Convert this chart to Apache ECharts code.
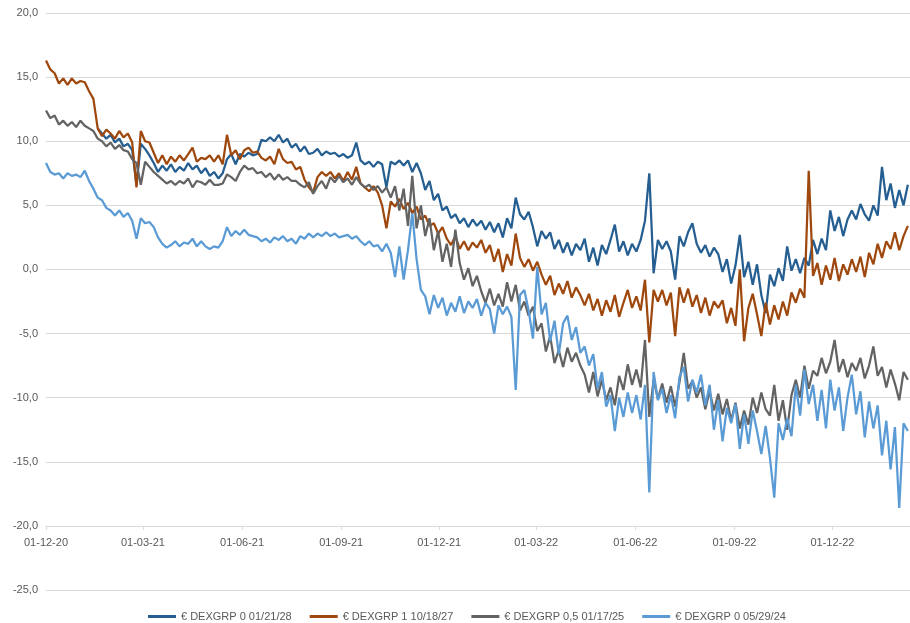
<!DOCTYPE html>
<html>
<head>
<meta charset="utf-8">
<script src="https://cdn.jsdelivr.net/npm/echarts@6/dist/echarts.min.js"></script>
<style>
html,body{margin:0;padding:0;background:#fff;}
#chart{width:910px;height:623px;}
</style>
</head>
<body>
<div id="chart"></div>
<script>
const startDate = [2020, 11, 1];   // 01-12-20
const dayCount = 803;              // calendar days on the axis
const sampleStep = 4;              // days between samples

const seriesNames = [
  '€ DEXGRP 0 01/21/28',
  '€ DEXGRP 1 10/18/27',
  '€ DEXGRP 0,5 01/17/25',
  '€ DEXGRP 0 05/29/24'
];

const yTicks = [-25, -20, -15, -10, -5, 0, 5, 10, 15, 20];
const xAxisCrossesAt = -20;

// € DEXGRP 0 01/21/28 (starts after issue, first 12 samples empty)
const dexgrp28 = [
  null,null,null,null,null,null,null,null,null,null,
  null,null,11.0,10.6,10.2,10.5,9.9,10.2,9.6,9.8,
  9.3,6.6,9.8,9.4,8.9,8.3,7.6,8.1,7.7,8.2,
  7.6,8.0,7.7,8.3,7.8,8.1,7.5,7.9,7.3,7.6,
  7.1,7.5,8.6,9.0,8.2,9.0,8.8,9.1,8.9,9.0,
  10.1,10.0,10.3,10.0,10.5,9.9,10.2,9.5,9.8,9.2,
  9.6,9.0,9.1,9.4,8.9,9.2,9.0,9.1,8.8,9.0,
  8.7,8.9,9.9,8.5,8.2,8.4,8.0,8.4,8.2,6.4,
  8.4,8.2,8.5,8.1,8.5,7.6,8.3,7.5,6.2,6.9,
  5.4,5.9,4.6,4.9,4.0,4.3,3.6,4.0,3.3,3.9,
  3.4,3.8,3.1,3.7,2.9,3.6,2.5,4.0,3.2,5.6,
  4.3,3.9,4.5,3.3,1.8,3.0,2.4,2.9,1.6,2.3,
  1.3,2.1,1.1,2.0,1.5,2.4,0.6,1.7,0.3,1.9,
  1.2,2.3,3.5,1.4,2.2,1.1,2.0,1.4,2.3,3.8,
  7.5,-0.3,2.3,1.6,2.2,1.4,-0.8,2.6,1.8,2.9,
  3.6,2.0,1.3,1.9,1.0,1.7,1.2,-0.2,0.8,-1.1,
  0.3,2.7,-0.6,0.6,-1.2,0.4,-2.0,-3.4,-0.4,-1.3,
  0.1,-0.9,1.8,-0.1,0.8,-0.3,0.9,0.3,2.3,1.2,
  2.4,1.5,4.6,3.0,4.1,2.6,3.9,4.6,3.9,5.1,
  4.3,3.8,5.0,4.2,8.0,5.4,6.7,4.8,6.2,5.0,
  6.6
];

// € DEXGRP 1 10/18/27
const dexgrp27 = [
  16.3,15.6,15.3,14.5,14.9,14.4,14.9,14.5,14.7,14.6,
  13.9,13.3,11.0,10.4,10.9,10.6,10.2,10.8,10.3,10.6,
  9.9,6.4,10.8,10.0,9.9,9.1,8.3,8.9,8.2,8.8,
  8.4,8.9,8.5,9.0,9.5,8.4,8.7,8.6,8.9,8.4,
  8.9,8.2,10.5,8.9,9.3,8.6,9.3,9.5,9.1,9.2,
  8.7,8.5,8.8,8.2,9.4,8.6,8.3,8.4,7.8,8.0,
  7.0,6.4,6.0,7.2,7.6,7.3,7.6,7.1,7.5,6.9,
  7.6,7.0,8.0,6.7,6.4,6.1,6.5,6.0,5.0,3.2,
  5.3,4.9,5.5,4.7,5.2,4.4,4.9,3.9,4.2,3.4,
  3.6,2.8,3.3,2.4,1.9,2.6,1.6,2.2,1.5,2.1,
  1.7,2.3,1.3,1.9,0.6,1.6,-0.2,1.2,0.3,2.8,
  0.9,0.2,0.8,-0.1,0.6,-0.4,-1.2,-0.5,-2.0,-1.1,
  -1.9,-0.9,-2.2,-1.4,-2.0,-2.8,-1.9,-3.2,-2.3,-3.6,
  -2.4,-3.3,-2.0,-3.7,-2.6,-1.6,-3.0,-2.1,-3.2,-0.8,
  -5.7,-1.6,-2.5,-1.6,-2.8,-1.8,-5.2,-1.4,-2.6,-1.5,
  -2.9,-2.0,-3.4,-2.2,-3.6,-2.5,-3.0,-2.4,-4.2,-3.0,
  -4.4,0.0,-5.6,-3.0,-1.9,-3.5,-5.2,-2.6,-4.3,-2.8,
  -3.9,-2.5,-3.6,-1.8,-2.6,-1.5,-2.2,7.7,-0.5,0.5,
  -1.2,0.3,-0.8,0.9,-0.9,0.4,-0.4,0.8,-0.2,1.0,
  -0.6,1.3,0.4,2.0,0.9,2.2,1.6,2.9,1.5,2.6,
  3.4
];

// € DEXGRP 0,5 01/17/25
const dexgrp25 = [
  12.4,11.8,12.0,11.3,11.6,11.2,11.5,11.1,11.6,11.2,
  11.0,10.8,10.2,10.0,9.6,9.9,9.4,9.7,9.3,9.2,
  8.6,8.3,6.6,8.4,8.0,7.6,7.3,7.0,6.7,6.9,
  6.6,6.9,6.7,7.1,6.4,6.9,6.8,6.6,7.0,6.6,
  6.6,6.7,7.4,7.2,6.9,7.6,8.1,7.8,7.9,7.5,
  7.6,7.2,7.5,7.0,7.4,7.0,7.2,6.9,6.9,6.6,
  6.4,6.8,5.9,6.5,6.9,6.3,7.2,6.8,7.3,6.8,
  7.1,6.6,7.2,6.7,6.4,6.6,6.2,6.5,6.0,6.4,
  5.6,6.5,4.6,6.3,3.4,7.3,3.2,5.0,2.6,4.0,
  1.5,3.0,0.6,2.0,0.2,3.1,0.5,-0.8,0.1,-1.3,
  -0.5,-1.7,-2.6,-1.5,-2.8,-1.9,-2.9,-1.0,-2.5,-1.2,
  -3.2,-2.5,-3.6,-2.9,-4.8,-4.2,-6.4,-5.2,-7.3,-6.3,
  -7.6,-6.1,-7.2,-6.5,-7.5,-8.2,-9.6,-8.0,-9.9,-8.6,
  -10.2,-9.2,-10.6,-8.3,-9.4,-7.4,-9.0,-7.8,-9.2,-5.5,
  -11.5,-8.6,-10.1,-8.9,-10.4,-9.1,-10.7,-8.8,-6.5,-9.3,
  -8.7,-10.0,-9.2,-10.9,-9.5,-11.0,-9.7,-11.3,-10.1,-11.8,
  -10.4,-12.4,-11.0,-12.1,-10.0,-11.2,-9.6,-10.9,-11.4,-9.0,
  -11.8,-10.2,-12.5,-9.8,-8.6,-10.0,-7.5,-9.3,-7.9,-8.3,
  -6.9,-8.1,-7.2,-5.5,-8.0,-7.0,-8.4,-7.3,-7.9,-6.9,
  -8.5,-7.5,-6.0,-8.3,-7.6,-9.2,-7.8,-8.9,-10.2,-8.0,
  -8.6
];

// € DEXGRP 0 05/29/24
const dexgrp24 = [
  8.3,7.6,7.4,7.5,7.1,7.5,7.3,7.4,7.2,7.7,
  6.9,6.3,5.6,5.4,4.8,4.6,4.2,4.6,4.1,4.4,
  3.8,2.4,4.0,3.6,3.7,3.3,2.5,2.0,1.7,1.9,
  2.2,1.8,2.1,2.0,2.4,1.8,2.2,1.8,1.6,1.8,
  1.7,2.2,3.3,2.6,3.0,2.7,3.1,2.7,2.6,2.5,
  2.2,2.4,2.1,2.5,2.3,2.6,2.2,2.4,2.0,2.6,
  2.4,2.8,2.5,2.8,2.6,2.9,2.6,2.8,2.5,2.6,
  2.7,2.4,2.6,2.2,1.9,2.2,1.8,1.9,1.4,2.0,
  1.3,-0.6,1.8,-0.8,1.5,4.4,0.8,-1.6,-2.1,-3.5,
  -2.0,-3.0,-2.2,-3.6,-2.6,-3.3,-2.1,-3.4,-2.5,-3.0,
  -2.3,-3.6,-2.6,-3.1,-5.0,-2.8,-3.5,-2.9,-3.7,-9.4,
  -2.0,-1.6,-3.2,-5.4,0.2,-3.5,-2.6,-5.6,-4.0,-6.6,
  -4.2,-3.6,-5.5,-4.5,-6.5,-6.0,-7.5,-6.6,-9.3,-8.0,
  -10.7,-9.8,-12.6,-10.0,-11.5,-9.6,-11.2,-9.8,-11.7,-9.0,
  -17.4,-8.0,-10.2,-9.3,-11.2,-9.8,-11.6,-8.4,-7.6,-10.3,
  -8.6,-9.6,-8.2,-10.6,-9.0,-12.5,-10.2,-13.4,-10.8,-12.0,
  -10.5,-14.0,-11.3,-13.6,-11.0,-12.6,-14.4,-12.2,-14.7,-17.8,
  -12.0,-13.3,-11.6,-13.0,-9.0,-11.4,-7.8,-10.5,-9.0,-11.8,
  -9.4,-12.4,-8.6,-11.0,-9.2,-12.6,-10.0,-8.2,-11.3,-9.5,
  -13.1,-10.3,-12.4,-10.6,-14.5,-11.8,-15.6,-12.3,-18.6,-12.0,
  -12.6
];

const seriesValues = [dexgrp28, dexgrp27, dexgrp25, dexgrp24];
const seriesColors = ['#255E91', '#9E480E', '#636363', '#5B9BD5'];

// ---- build axis categories (calendar days, dd-mm-yy) ----
function pad(n){ return (n < 10 ? '0' : '') + n; }
const dates = [];
for (let d = 0; d < dayCount; d++) {
  const dt = new Date(Date.UTC(startDate[0], startDate[1], startDate[2] + d));
  dates.push(pad(dt.getUTCDate()) + '-' + pad(dt.getUTCMonth() + 1) + '-' + String(dt.getUTCFullYear()).slice(2));
}
function isQuarterLabel(idx) {
  const v = dates[idx];
  if (!v) return false;
  const m = v.substr(3, 2);
  return v.substr(0, 2) === '01' && (m === '03' || m === '06' || m === '09' || m === '12');
}

const chart = echarts.init(document.getElementById('chart'), null, {renderer: 'canvas'});

const yMin = yTicks[0], yMax = yTicks[yTicks.length - 1];
const FONT = 'Liberation Sans, Arial, sans-serif';
const gridTop = 13, gridBottom = 33;
const plotH = 623 - gridTop - gridBottom;
const crossOffset = -plotH * (xAxisCrossesAt - yMin) / (yMax - yMin);

const series = seriesValues.map((vals, s) => ({
  name: seriesNames[s],
  type: 'line',
  xAxisIndex: 0,
  yAxisIndex: 0,
  showSymbol: false,
  symbol: 'none',
  color: seriesColors[s],
  lineStyle: { width: 2.25, color: seriesColors[s] },
  data: vals.map((v, i) => [i * sampleStep, v]).filter(p => p[1] !== null),
  animation: false
}));

chart.setOption({
  backgroundColor: '#ffffff',
  animation: false,
  textStyle: { fontFamily: FONT },
  grid: { left: 46, right: 0, top: gridTop, bottom: gridBottom, containLabel: false },
  legend: {
    data: seriesNames,
    left: 148,
    top: 611,
    padding: 0,
    icon: 'rect',
    itemWidth: 28,
    itemHeight: 3,
    itemGap: 18,
    textStyle: { color: '#595959', fontSize: 11, fontFamily: FONT }
  },
  xAxis: [{
    // axis line + tick marks crossing at -20
    type: 'category',
    data: dates,
    boundaryGap: false,
    axisLine: { show: true, onZero: true, onZeroAxisIndex: 1, lineStyle: { color: '#d9d9d9', width: 1 } },
    axisTick: { show: true, interval: isQuarterLabel, length: 4, lineStyle: { color: '#d9d9d9' } },
    axisLabel: { show: false },
    splitLine: { show: false }
  }, {
    // date labels placed under the -20 line
    type: 'category',
    data: dates,
    boundaryGap: false,
    position: 'bottom',
    offset: crossOffset,
    axisLine: { show: false },
    axisTick: { show: false },
    axisLabel: { interval: isQuarterLabel, color: '#595959', fontSize: 11, margin: 12, fontFamily: FONT },
    splitLine: { show: false }
  }],
  yAxis: [{
    type: 'value',
    min: yMin,
    max: yMax,
    interval: 5,
    axisLine: { show: false },
    axisTick: { show: false },
    axisLabel: { color: '#595959', fontSize: 11, margin: 8, fontFamily: FONT,
                 formatter: v => v.toFixed(1).replace('.', ',') },
    splitLine: { lineStyle: { color: '#d9d9d9', width: 1 } }
  }, {
    // helper scale shifted so that its zero sits at the value where the date axis crosses
    type: 'value',
    show: false,
    min: yMin - xAxisCrossesAt,
    max: yMax - xAxisCrossesAt,
    splitLine: { show: false },
    axisLabel: { show: false },
    axisTick: { show: false },
    axisLine: { show: false }
  }],
  series: series
});
</script>
</body>
</html>
